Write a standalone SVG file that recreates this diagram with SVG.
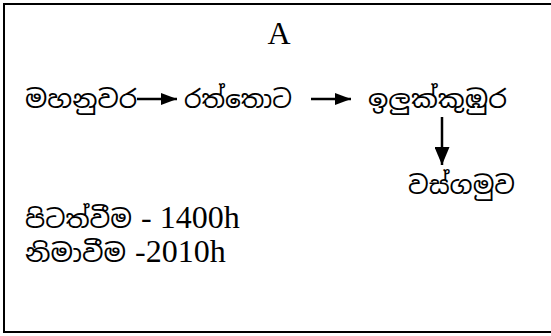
<svg xmlns="http://www.w3.org/2000/svg" width="551" height="336" viewBox="0 0 551 336">
<style>
.s{font-family:"Noto Sans Sinhala","Noto Serif Sinhala","Iskoola Pota",sans-serif;font-size:25px;fill:#000}
.l{font-family:"Liberation Serif","Times New Roman",serif;font-size:32px;fill:#000}
.c{stroke:#000;stroke-width:2.5;fill:none}
</style>
<defs>
<marker id="ah" viewBox="0 0 16 12" refX="16" refY="6" markerWidth="16" markerHeight="12" markerUnits="userSpaceOnUse" orient="auto">
<path d="M0,0 L16,6 L0,12 Z" fill="#000"/>
</marker>
<marker id="ahb" viewBox="0 0 18 15" refX="18" refY="7.5" markerWidth="18" markerHeight="15" markerUnits="userSpaceOnUse" orient="auto">
<path d="M0,0 L18,7.5 L0,15 Z" fill="#000"/>
</marker>
</defs>
<rect x="4" y="4" width="560" height="328" fill="#fff" stroke="#000" stroke-width="2"/>
<g id="title"><text class="l" x="279" y="44" text-anchor="middle">A</text></g>
<g id="n1"><text class="s" x="25" y="108" textLength="112" lengthAdjust="spacingAndGlyphs">මහනුවර</text></g>
<g id="n2"><text class="s" x="184" y="108" textLength="108" lengthAdjust="spacingAndGlyphs">රත්තොට</text></g>
<g id="n3"><text class="s" x="368" y="108" textLength="139" lengthAdjust="spacingAndGlyphs">ඉලුක්කුඹුර</text></g>
<g id="n4"><text class="s" x="408" y="194" textLength="107" lengthAdjust="spacingAndGlyphs">වස්ගමුව</text></g>
<g id="info">
<text class="s" x="25" y="228" textLength="107" lengthAdjust="spacingAndGlyphs">පිටත්වීම</text>
<text class="l" x="141" y="228">- 1400h</text>
<text class="s" x="25" y="262" textLength="101" lengthAdjust="spacingAndGlyphs">නිමාවීම</text>
<text class="l" x="135" y="262">-2010h</text>
</g>
<g id="connectors">
<line class="c" x1="137" y1="99" x2="177" y2="99" marker-end="url(#ah)"/>
<line class="c" x1="311" y1="99" x2="351" y2="99" marker-end="url(#ah)"/>
<line class="c" x1="442" y1="117" x2="442" y2="165" marker-end="url(#ahb)"/>
</g>
</svg>
